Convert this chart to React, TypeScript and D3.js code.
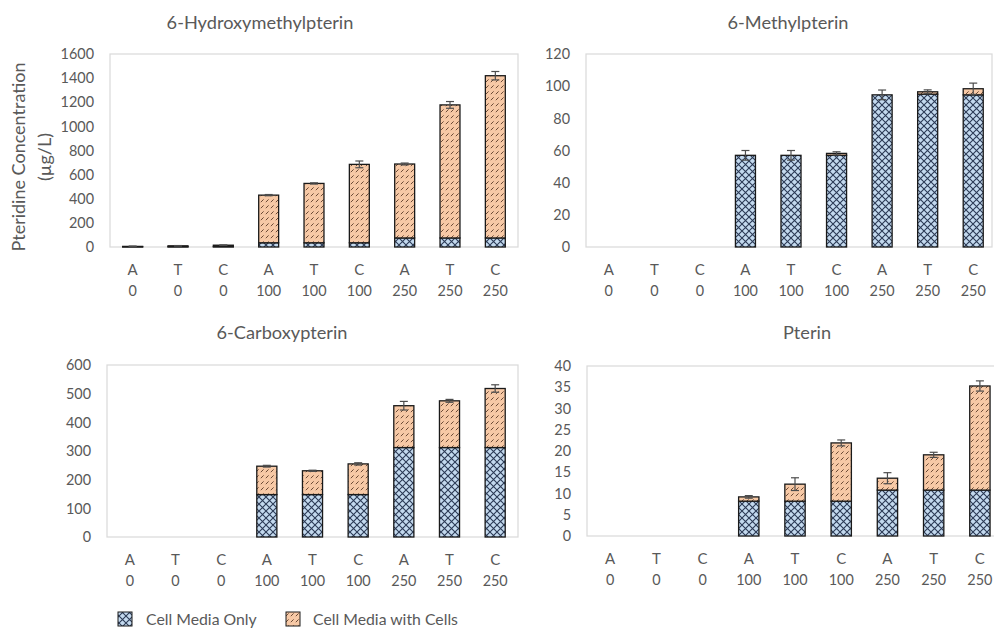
import React from "react";
import * as d3 from "d3";

const treatments = ["A", "T", "C", "A", "T", "C", "A", "T", "C"];
const doses = ["0", "0", "0", "100", "100", "100", "250", "250", "250"];

const seriesNames = ["Cell Media Only", "Cell Media with Cells"];

// 6-Hydroxymethylpterin
const hmMedia = [2, 3, 4, 35, 35, 35, 75, 75, 75];
const hmCells = [3, 7, 11, 395, 492, 650, 613, 1103, 1345];
const hmErr = [3, 2, 2, 5, 5, 28, 8, 28, 35];
const hmTicks = [0, 200, 400, 600, 800, 1000, 1200, 1400, 1600];

// 6-Methylpterin
const mpMedia = [0, 0, 0, 57, 57, 57, 94.6, 95, 94.6];
const mpCells = [0, 0, 0, 0, 0, 1.2, 0, 1.5, 3.8];
const mpErr = [0, 0, 0, 3, 3, 1, 3, 1.2, 3.5];
const mpTicks = [0, 20, 40, 60, 80, 100, 120];

// 6-Carboxypterin
const cpMedia = [0, 0, 0, 148, 148, 148, 312, 312, 312];
const cpCells = [0, 0, 0, 99, 83, 107, 146, 163, 206];
const cpErr = [0, 0, 0, 3, 2, 4, 15, 5, 13];
const cpTicks = [0, 100, 200, 300, 400, 500, 600];

// Pterin
const ptMedia = [0, 0, 0, 8.2, 8.2, 8.2, 10.8, 10.8, 10.8];
const ptCells = [0, 0, 0, 1.0, 4.0, 13.7, 2.8, 8.3, 24.5];
const ptErr = [0, 0, 0, 0.3, 1.5, 0.7, 1.3, 0.6, 1.2];
const ptTicks = [0, 5, 10, 15, 20, 25, 30, 35, 40];

const FONT = "Lato, 'Open Sans', sans-serif";
const TEXT = "#595959";
const FRAME = "#d9d9d9";
const BLUE = "#c3d9ee";
const ORANGE = "#f7c9a6";

type PanelProps = {
  title: string;
  titleX: number;
  titleY: number;
  x0: number;
  x1: number;
  frameRight: number;
  y0: number;
  y1: number;
  media: number[];
  cells: number[];
  err: number[];
  ticks: number[];
};

function Panel(p: PanelProps) {
  const cats = treatments.map((_, i) => String(i));
  const x = d3.scaleBand().domain(cats).range([p.x0, p.x1]).paddingInner(0.56).paddingOuter(0.28);
  const y = d3.scaleLinear().domain([0, p.ticks[p.ticks.length - 1]]).range([p.y1, p.y0]);
  const bw = x.bandwidth();
  const stacked = d3.stack<number>().keys(["m", "c"]).value((i, k) => (k === "m" ? p.media[i] : p.cells[i]))(
    d3.range(treatments.length)
  );
  const fills = ["url(#patMedia)", "url(#patCells)"];
  return (
    <g>
      <text x={p.titleX} y={p.titleY} textAnchor="middle" fontSize={18.2} fill={TEXT} fontFamily={FONT}>
        {p.title}
      </text>
      <rect x={p.x0} y={p.y0} width={p.frameRight - p.x0} height={p.y1 - p.y0} fill="none" stroke={FRAME} strokeWidth={1.2} />
      {p.ticks.map((t) => (
        <text key={t} x={p.x0 - 16} y={y(t)} dy="0.36em" textAnchor="end" fontSize={14.4} fill={TEXT} fontFamily={FONT}>
          {t}
        </text>
      ))}
      {cats.map((c, i) => (
        <g key={c}>
          <text x={x(c)! + bw / 2} y={p.y1 + 28} textAnchor="middle" fontSize={15} fill={TEXT} fontFamily={FONT}>
            {treatments[i]}
          </text>
          <text x={x(c)! + bw / 2} y={p.y1 + 49} textAnchor="middle" fontSize={14.4} fill={TEXT} fontFamily={FONT}>
            {doses[i]}
          </text>
        </g>
      ))}
      {stacked.map((s, si) =>
        s.map((d, i) => {
          if (d[1] - d[0] <= 0) return null;
          return (
            <rect
              key={`${si}-${i}`}
              x={x(cats[i])!}
              y={y(d[1])}
              width={bw}
              height={y(d[0]) - y(d[1])}
              fill={fills[si]}
              stroke="#1a1a1a"
              strokeWidth={1.3}
            />
          );
        })
      )}
      {cats.map((c, i) => {
        const total = p.media[i] + p.cells[i];
        if (total <= 0 || p.err[i] <= 0) return null;
        const cx = x(c)! + bw / 2;
        const yt = y(total + p.err[i]);
        const yb = y(Math.max(0, total - p.err[i]));
        return (
          <g key={"e" + c} stroke="#4d4d4d" strokeWidth={1.2}>
            <line x1={cx} x2={cx} y1={yt} y2={yb} />
            <line x1={cx - 4} x2={cx + 4} y1={yt} y2={yt} />
            <line x1={cx - 4} x2={cx + 4} y1={yb} y2={yb} />
          </g>
        );
      })}
    </g>
  );
}

export default function App() {
  return (
    <svg width={994} height={630} style={{ position: "absolute", left: 0, top: 0, background: "#fff" }}>
      <defs>
        <pattern id="patMedia" patternUnits="userSpaceOnUse" width={7} height={7}>
          <rect width={7} height={7} fill={BLUE} />
          <path d="M0,0 L7,7 M7,0 L0,7" stroke="#2b3a55" strokeWidth={1.1} />
        </pattern>
        <pattern id="patCells" patternUnits="userSpaceOnUse" width={5} height={6}>
          <rect width={5} height={6} fill={ORANGE} />
          <path d="M0.8,4.2 L3.6,1.4" stroke="#6b4a35" strokeWidth={1} />
        </pattern>
      </defs>
      <Panel title="6-Hydroxymethylpterin" titleX={260} titleY={29} x0={110} x1={518} frameRight={518} y0={54} y1={247}
        media={hmMedia} cells={hmCells} err={hmErr} ticks={hmTicks} />
      <Panel title="6-Methylpterin" titleX={788} titleY={29} x0={586} x1={996} frameRight={992} y0={54} y1={247}
        media={mpMedia} cells={mpCells} err={mpErr} ticks={mpTicks} />
      <Panel title="6-Carboxypterin" titleX={282} titleY={339} x0={107} x1={518} frameRight={518} y0={365} y1={537}
        media={cpMedia} cells={cpCells} err={cpErr} ticks={cpTicks} />
      <Panel title="Pterin" titleX={807} titleY={339} x0={587} x1={1003} frameRight={1003} y0={366} y1={536}
        media={ptMedia} cells={ptCells} err={ptErr} ticks={ptTicks} />
      <g fontFamily={FONT} fill={TEXT} fontSize={18}>
        <text transform="translate(25,157) rotate(-90)" textAnchor="middle">Pteridine Concentration</text>
        <text transform="translate(51,157) rotate(-90)" textAnchor="middle">(µg/L)</text>
      </g>
      <g fontFamily={FONT} fontSize={15.8} fill={TEXT}>
        <rect x={118} y={612} width={14} height={14} fill="url(#patMedia)" stroke="#1a1a1a" strokeWidth={1} />
        <text x={146} y={625}>{seriesNames[0]}</text>
        <rect x={286} y={612} width={14} height={14} fill="url(#patCells)" stroke="#1a1a1a" strokeWidth={1} />
        <text x={313} y={625}>{seriesNames[1]}</text>
      </g>
    </svg>
  );
}
